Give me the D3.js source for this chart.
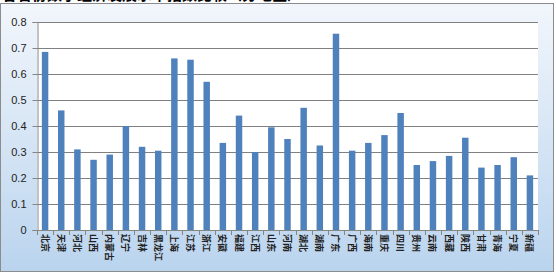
<!DOCTYPE html>
<html>
<head>
<meta charset="utf-8">
<script src="https://cdn.jsdelivr.net/npm/d3@7"></script>
<style>
  body { margin: 0; background: #fff; }
  svg { display: block; }
</style>
</head>
<body>
<div id="chart"></div>
<script>
const provinces = ["北京","天津","河北","山西","内蒙古","辽宁","吉林","黑龙江","上海","江苏","浙江","安徽","福建","江西","山东","河南","湖北","湖南","广东","广西","海南","重庆","四川","贵州","云南","西藏","陕西","甘肃","青海","宁夏","新疆"];
const values = [0.685,0.46,0.31,0.27,0.29,0.40,0.32,0.305,0.66,0.655,0.57,0.335,0.44,0.30,0.395,0.35,0.47,0.325,0.755,0.305,0.335,0.365,0.45,0.25,0.265,0.285,0.355,0.24,0.25,0.28,0.21];
const yTicks = [0,0.1,0.2,0.3,0.4,0.5,0.6,0.7,0.8];
const title = "各省份数字经济发展水平指数比较（分地区）";

const width = 556, height = 277;
const plot = {left: 37, right: 538, top: 22, bottom: 230};

const svg = d3.select("#chart").append("svg")
  .attr("width", width)
  .attr("height", height);

const grad = svg.append("defs").append("linearGradient")
  .attr("id", "bg").attr("x1", 0).attr("y1", 0).attr("x2", 0).attr("y2", 1);
grad.append("stop").attr("offset", "0%").attr("stop-color", "#f2f6fc");
grad.append("stop").attr("offset", "100%").attr("stop-color", "#bad4ee");

// outer chart box
svg.append("rect")
  .attr("x", 0.5).attr("y", 3.5)
  .attr("width", 553).attr("height", 268)
  .attr("fill", "url(#bg)")
  .attr("stroke", "#8c8c8c");

// title, almost entirely cropped off the top like in the screenshot
svg.append("text")
  .attr("x", 2).attr("y", -0.5)
  .attr("font-family", "Noto Sans CJK SC")
  .attr("font-size", 15)
  .attr("font-weight", "bold")
  .attr("fill", "#000")
  .text(title);

svg.append("rect")
  .attr("x", plot.left).attr("y", plot.top)
  .attr("width", plot.right - plot.left).attr("height", plot.bottom - plot.top)
  .attr("fill", "#fff");

const x = d3.scaleBand()
  .domain(provinces)
  .range([plot.left, plot.right])
  .paddingInner(0.6)
  .paddingOuter(0.3);

const y = d3.scaleLinear()
  .domain([0, 0.8])
  .range([plot.bottom, plot.top]);

// gridlines
svg.append("g")
  .selectAll("line")
  .data(yTicks.slice(1))
  .join("line")
  .attr("x1", plot.left).attr("x2", plot.right)
  .attr("y1", d => Math.round(y(d)) + 0.5)
  .attr("y2", d => Math.round(y(d)) + 0.5)
  .attr("stroke", "#808080")
  .attr("stroke-width", 1.2);

// bars
svg.append("g")
  .selectAll("rect")
  .data(values)
  .join("rect")
  .attr("x", (d, i) => x(provinces[i]))
  .attr("y", d => y(d))
  .attr("width", x.bandwidth())
  .attr("height", d => y(0) - y(d))
  .attr("fill", "#4f81bd");

// y axis
const yAxis = svg.append("g")
  .attr("transform", `translate(${plot.left + 0.5},0)`)
  .call(d3.axisLeft(y).tickValues(yTicks).tickSize(5).tickPadding(6)
    .tickFormat(d => d === 0 ? "0" : d3.format(".1f")(d)));
yAxis.select(".domain").attr("stroke", "#868686");
yAxis.selectAll(".tick line").attr("stroke", "#868686");
yAxis.selectAll("text")
  .attr("font-family", "Liberation Sans, Arial")
  .attr("font-size", 11)
  .attr("fill", "#222");

// x axis
svg.append("line")
  .attr("x1", plot.left).attr("x2", plot.right)
  .attr("y1", plot.bottom + 0.5).attr("y2", plot.bottom + 0.5)
  .attr("stroke", "#868686");
svg.append("g")
  .selectAll("line")
  .data(d3.range(provinces.length + 1))
  .join("line")
  .attr("x1", i => Math.round(plot.left + i * x.step()) + 0.5)
  .attr("x2", i => Math.round(plot.left + i * x.step()) + 0.5)
  .attr("y1", plot.bottom)
  .attr("y2", plot.bottom + 5)
  .attr("stroke", "#868686");

svg.append("g")
  .selectAll("text")
  .data(provinces)
  .join("text")
  .attr("transform", d => `translate(${x(d) + x.bandwidth() / 2 - 3.5},${plot.bottom + 4}) rotate(90)`)
  .attr("font-family", "Noto Sans CJK SC")
  .attr("font-size", 9)
  .attr("font-weight", "bold")
  .attr("fill", "#222")
  .attr("text-anchor", "start")
  .text(d => d);
</script>
</body>
</html>
